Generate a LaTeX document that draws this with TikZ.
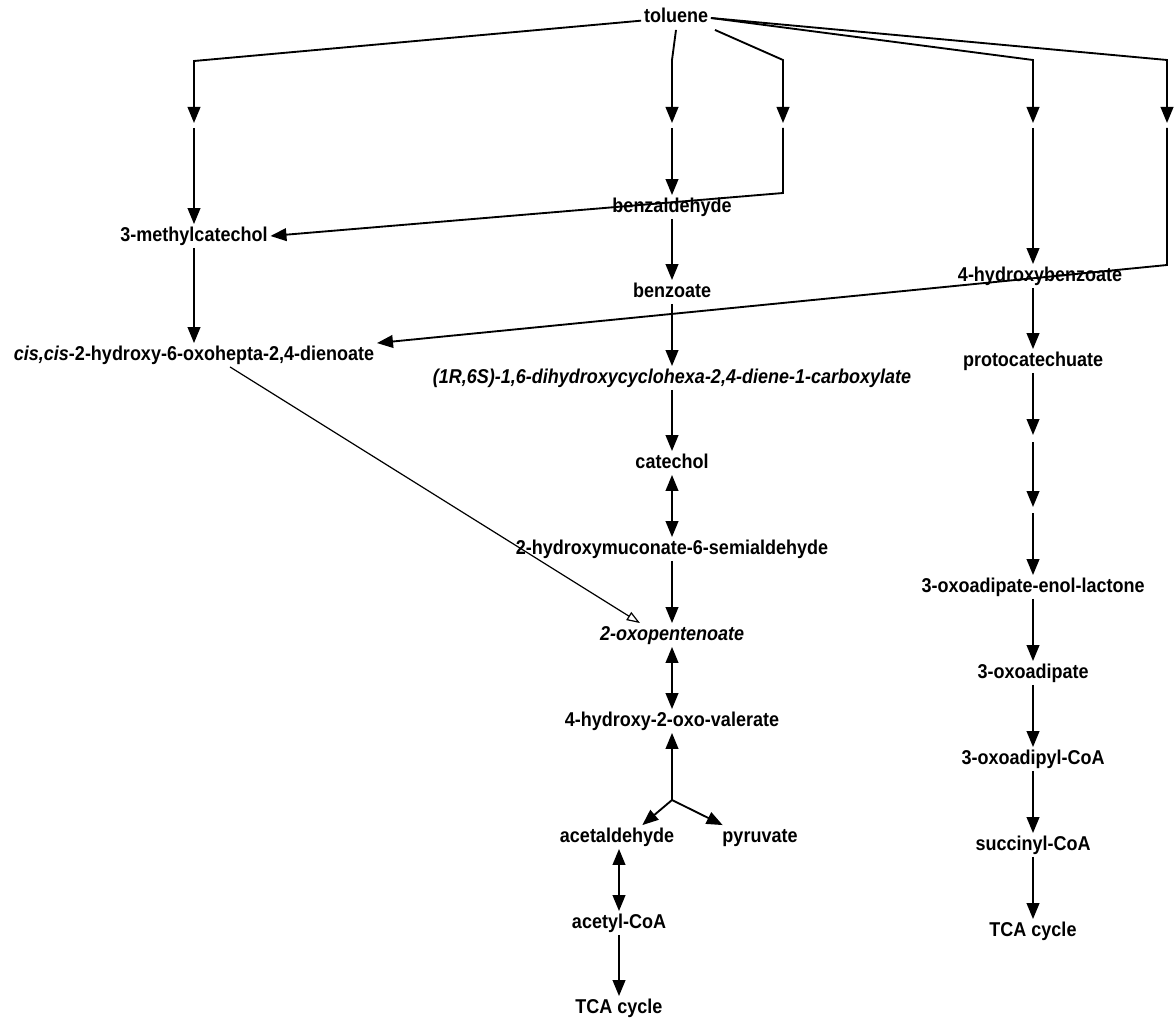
\documentclass[tikz,border=0pt]{standalone}
\usepackage{fontspec}
\setmainfont{Liberation Sans}[FakeStretch=0.9]
\usetikzlibrary{arrows.meta}
\begin{document}
\begin{tikzpicture}[x=0.75pt,y=-0.75pt,
  lbl/.style={font=\fontsize{15pt}{18pt}\selectfont\bfseries, inner sep=2pt, text height=10.5pt, text depth=3pt},
  arr/.style={line width=1.4pt, -{Triangle[width=9.5pt,length=12pt]}},
  darr/.style={line width=1.4pt, {Triangle[width=9.5pt,length=12pt]}-{Triangle[width=9.5pt,length=12pt]}},
  openarr/.style={line width=0.9pt, -{Triangle[open,width=7pt,length=10pt]}},
  plainline/.style={line width=1.4pt}]
\useasboundingbox (0,0) rectangle (1176,1020);

% nodes
\node[lbl] (toluene) at (676,18) {toluene};
\node[lbl] (methylcat) at (194,236) {3-methylcatechol};
\node[lbl] (benzaldehyde) at (672,207) {benzaldehyde};
\node[lbl] (benzoate) at (672,292) {benzoate};
\node[lbl] (hydroxybenzoate) at (1040,276) {4-hydroxybenzoate};
\node[lbl] (dienoate) at (194,355) {\itshape cis,cis\upshape-2-hydroxy-6-oxohepta-2,4-dienoate};
\node[lbl] (dihydroxy) at (672,378) {\itshape (1R,6S)-1,6-dihydroxycyclohexa-2,4-diene-1-carboxylate};
\node[lbl] (protocatechuate) at (1033,361) {protocatechuate};
\node[lbl] (catechol) at (672,463) {catechol};
\node[lbl] (semialdehyde) at (672,549) {2-hydroxymuconate-6-semialdehyde};
\node[lbl] (oxopentenoate) at (672,635) {\itshape 2-oxopentenoate};
\node[lbl] (valerate) at (672,721) {4-hydroxy-2-oxo-valerate};
\node[lbl] (acetaldehyde) at (617,837) {acetaldehyde};
\node[lbl] (pyruvate) at (760,837) {pyruvate};
\node[lbl] (acetylcoa) at (619,923) {acetyl-CoA};
\node[lbl] (tcaA) at (619,1008) {TCA cycle};
\node[lbl] (enollactone) at (1033,587) {3-oxoadipate-enol-lactone};
\node[lbl] (oxoadipate) at (1033,673) {3-oxoadipate};
\node[lbl] (oxoadipylcoa) at (1033,759) {3-oxoadipyl-CoA};
\node[lbl] (succinylcoa) at (1033,845) {succinyl-CoA};
\node[lbl] (tcaB) at (1033,931) {TCA cycle};

% helper coordinates
\coordinate (c1) at (194,61);  \coordinate (m1) at (194,123); \coordinate (g1) at (194,128);
\coordinate (c2) at (672,60);  \coordinate (m2) at (672,123); \coordinate (g2) at (672,128);
\coordinate (c3) at (783,60);  \coordinate (m3) at (783,123); \coordinate (g3) at (783,128); \coordinate (b3) at (783,193);
\coordinate (c4) at (1033,60); \coordinate (m4) at (1033,123); \coordinate (g4) at (1033,128);
\coordinate (c5) at (1167,60); \coordinate (m5) at (1167,123); \coordinate (g5) at (1167,128); \coordinate (b5) at (1167,265);
\coordinate (p1) at (1033,435); \coordinate (p1g) at (1033,442);
\coordinate (p2) at (1033,507); \coordinate (p2g) at (1033,513);
\coordinate (split) at (672,800);

% from toluene
\draw[arr] ([yshift=-2pt]toluene.west) -- (c1) -- (m1);
\draw[arr] (g1) -- (methylcat);
\draw[arr] (toluene.south) -- (c2) -- (m2);
\draw[arr] (g2) -- (benzaldehyde);
\draw[arr] ([xshift=3pt]toluene.south east) -- (c3) -- (m3);
\draw[arr] (g3) -- (b3) -- (methylcat.east);
\draw[arr] (toluene.east) -- (c4) -- (m4);
\draw[arr] (g4) -- (g4 |- hydroxybenzoate.north);
\draw[arr] (toluene.east) -- (c5) -- (m5);
\draw[arr] (g5) -- (b5) -- (dienoate.north east);

% left column
\draw[arr] (methylcat) -- (dienoate);
\draw[openarr] ([xshift=27pt]dienoate.south) -- ([xshift=-24pt]oxopentenoate.north);

% centre column
\draw[arr] (benzaldehyde) -- (benzoate);
\draw[arr] (benzoate) -- (dihydroxy);
\draw[arr] (dihydroxy) -- (catechol);
\draw[darr] (catechol) -- (semialdehyde);
\draw[arr] (semialdehyde) -- (oxopentenoate);
\draw[darr] (oxopentenoate) -- (valerate);
\draw[arr] (split) -- (valerate);
\draw[arr] (split) -- ([xshift=19pt]acetaldehyde.north);
\draw[arr] (split) -- ([xshift=-28pt]pyruvate.north);
\draw[darr] (acetaldehyde.south -| acetylcoa) -- (acetylcoa);
\draw[arr] (acetylcoa) -- (tcaA);

% right column
\draw[arr] (hydroxybenzoate.south -| protocatechuate) -- (protocatechuate);
\draw[arr] (protocatechuate) -- (p1);
\draw[arr] (p1g) -- (p2);
\draw[arr] (p2g) -- (enollactone);
\draw[arr] (enollactone) -- (oxoadipate);
\draw[arr] (oxoadipate) -- (oxoadipylcoa);
\draw[arr] (oxoadipylcoa) -- (succinylcoa);
\draw[arr] (succinylcoa) -- (tcaB);
\end{tikzpicture}
\end{document}
